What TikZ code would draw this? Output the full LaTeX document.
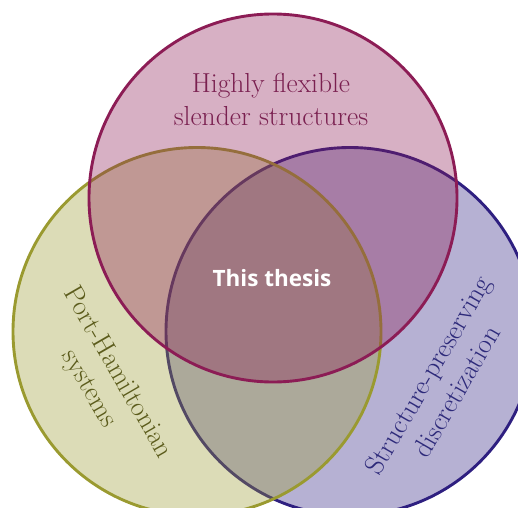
\documentclass[tikz,border=0pt]{standalone}
\usepackage{fontspec}
\setsansfont{Open Sans}
\definecolor{topc}{RGB}{140,28,85}
\definecolor{leftc}{RGB}{154,154,48}
\definecolor{rightc}{RGB}{46,31,128}
\definecolor{topt}{RGB}{122,32,80}
\definecolor{leftt}{RGB}{92,92,28}
\definecolor{rightt}{RGB}{45,42,122}
\tikzset{
  venn/.style={circle, minimum size=368pt, inner sep=0pt, line width=2.9pt, fill opacity=0.35, draw opacity=1},
  lbl/.style={align=center, font=\fontsize{27.5}{33}\selectfont, inner sep=0pt},
}
\begin{document}
\begin{tikzpicture}[x=1pt,y=1pt]
\useasboundingbox (0,0) rectangle (518,507);
\clip (0,0) rectangle (518,507);
\node[venn, draw=rightc, fill=rightc] (right) at (350,175.5) {};
\node[venn, draw=leftc, fill=leftc] (left) at (197,175.5) {};
\node[venn, draw=topc, fill=topc] (top) at (273,309) {};
\node[lbl, text=topt] (ttop) at (271,408) {Highly flexible\\slender structures};
\node[lbl, text=leftt, rotate=-60] (tleft) at (103,126) {Port-Hamiltonian\\systems};
\node[lbl, text=rightt, rotate=60] (tright) at (442,124) {Structure-preserving\\discretization};
\node[text=white, font=\sffamily\bfseries\fontsize{22.5}{26}\selectfont, inner sep=0pt] (thesis) at (272,229) {This thesis};
\end{tikzpicture}
\end{document}
